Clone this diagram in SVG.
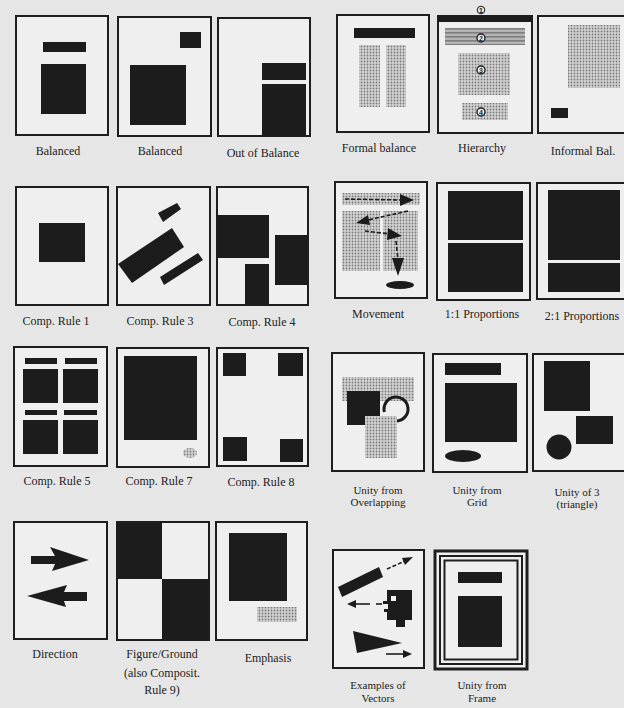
<svg xmlns="http://www.w3.org/2000/svg" width="624" height="708" viewBox="0 0 624 708">
<style>
.pg{fill:#efefef;stroke:#1e1e1e;stroke-width:2}
.bk{fill:#1c1c1c}
.dt{fill:url(#dots)}
.lbl{font-family:"Liberation Serif","Times New Roman",serif;font-size:12px;fill:#222;text-anchor:middle}
.l2{font-family:"Liberation Serif","Times New Roman",serif;font-size:11px;fill:#222;text-anchor:middle}
.num{font-family:"Liberation Sans",Arial,sans-serif;font-size:7px;font-weight:bold;fill:#1c1c1c;text-anchor:middle}
.nc{fill:#f2f2f2;stroke:#1c1c1c;stroke-width:1.4}
.dash{fill:none;stroke:#1c1c1c;stroke-width:1.6;stroke-dasharray:4 2}
.ln{fill:none;stroke:#1c1c1c;stroke-width:1.6}
</style>
<defs>
<pattern id="dots" width="3" height="3" patternUnits="userSpaceOnUse"><rect width="3" height="3" fill="#d4d4d4"/><circle cx="1.5" cy="1.5" r="0.9" fill="#7a7a7a"/></pattern>
<pattern id="stripes" width="4" height="4" patternUnits="userSpaceOnUse"><rect width="4" height="4" fill="#b4b4b4"/><rect width="4" height="1.6" fill="#7e7e7e"/></pattern>
</defs>
<rect width="624" height="708" fill="#e6e6e6"/>

<g id="balanced1">
<rect class="pg" x="16" y="16" width="92" height="119"/>
<rect class="bk" x="43" y="42" width="43" height="10"/>
<rect class="bk" x="41" y="64" width="45" height="50"/>
<text class="lbl" x="58" y="155">Balanced</text>
</g>
<g id="balanced2">
<rect class="pg" x="118" y="17" width="93" height="119"/>
<rect class="bk" x="180" y="32" width="21" height="16"/>
<rect class="bk" x="130" y="65" width="56" height="60"/>
<text class="lbl" x="160" y="155">Balanced</text>
</g>
<g id="outofbalance">
<rect class="pg" x="218" y="18" width="92" height="118"/>
<rect class="bk" x="262" y="63" width="44" height="17"/>
<rect class="bk" x="262" y="84" width="44" height="52"/>
<text class="lbl" x="263" y="157">Out of Balance</text>
</g>

<g id="formalbalance">
<rect class="pg" x="337" y="15" width="92" height="117"/>
<rect class="bk" x="354" y="28" width="61" height="10"/>
<rect class="dt" x="359" y="45" width="21" height="62"/>
<rect class="dt" x="386" y="45" width="20" height="62"/>
<text class="lbl" x="379" y="152">Formal balance</text>
</g>
<g id="hierarchy">
<circle cx="481" cy="10" r="3.8" fill="none" stroke="#1c1c1c" stroke-width="1"/>
<text class="num" x="481" y="12.5" font-weight="normal">1</text>
<rect class="pg" x="438" y="16" width="94" height="117"/>
<rect class="bk" x="438" y="16" width="94" height="6"/>
<rect x="445" y="28" width="80" height="17" fill="url(#stripes)"/>
<rect class="dt" x="458" y="53" width="52" height="42"/>
<rect class="dt" x="462" y="103" width="46" height="17"/>
<circle class="nc" cx="481" cy="38" r="4"/>
<text class="num" x="481" y="40.5">2</text>
<circle class="nc" cx="481" cy="70" r="4"/>
<text class="num" x="481" y="72.5">3</text>
<circle class="nc" cx="481" cy="112" r="4"/>
<text class="num" x="481" y="114.5">4</text>
<text class="lbl" x="482" y="152">Hierarchy</text>
</g>
<g id="informalbal">
<rect class="pg" x="538" y="16" width="92" height="117"/>
<rect class="dt" x="568" y="25" width="52" height="63"/>
<rect class="bk" x="551" y="108" width="17" height="10"/>
<text class="lbl" x="583" y="155">Informal Bal.</text>
</g>

<g id="comprule1">
<rect class="pg" x="16" y="187" width="92" height="118"/>
<rect class="bk" x="39" y="223" width="46" height="39"/>
<text class="lbl" x="56" y="325">Comp. Rule 1</text>
</g>
<g id="comprule3">
<rect class="pg" x="117" y="187" width="93" height="118"/>
<polygon class="bk" points="158,213 177,203 181,209 163,222"/>
<polygon class="bk" points="118,264 172,228 184,247 132,283"/>
<polygon class="bk" points="160,277 198,253 203,260 164,285"/>
<text class="lbl" x="160" y="325">Comp. Rule 3</text>
</g>
<g id="comprule4">
<rect class="pg" x="217" y="187" width="91" height="118"/>
<rect class="bk" x="217" y="215" width="52" height="43"/>
<rect class="bk" x="275" y="235" width="33" height="50"/>
<rect class="bk" x="245" y="264" width="24" height="41"/>
<text class="lbl" x="262" y="326">Comp. Rule 4</text>
</g>

<g id="movement">
<rect class="pg" x="335" y="182" width="92" height="116"/>
<rect class="dt" x="342" y="193" width="78" height="12"/>
<rect class="dt" x="342" y="211" width="38" height="60"/>
<rect class="dt" x="383" y="211" width="35" height="60"/>
<line class="dash" x1="345" y1="199" x2="401" y2="200"/>
<polygon class="bk" points="400,194 414,200 400,206"/>
<line class="dash" x1="408" y1="211" x2="368" y2="220"/>
<polygon class="bk" points="356,223 368,215 370,225"/>
<line class="dash" x1="365" y1="231" x2="390" y2="234"/>
<polygon class="bk" points="388,228 402,236 387,240"/>
<line class="dash" x1="396" y1="241" x2="398" y2="260"/>
<polygon class="bk" points="392,258 404,258 398,276"/>
<ellipse class="bk" cx="400" cy="285" rx="14" ry="4"/>
<text class="lbl" x="378" y="318">Movement</text>
</g>
<g id="prop11">
<rect class="pg" x="437" y="183" width="93" height="117"/>
<rect class="bk" x="448" y="191" width="75" height="49"/>
<rect class="bk" x="448" y="243" width="75" height="49"/>
<text class="lbl" x="482" y="318">1:1 Proportions</text>
</g>
<g id="prop21">
<rect class="pg" x="537" y="183" width="93" height="116"/>
<rect class="bk" x="548" y="190" width="72" height="70"/>
<rect class="bk" x="548" y="263" width="72" height="29"/>
<text class="lbl" x="582" y="320">2:1 Proportions</text>
</g>

<g id="comprule5">
<rect class="pg" x="14" y="347" width="93" height="119"/>
<rect class="bk" x="25" y="358" width="32" height="6"/>
<rect class="bk" x="65" y="358" width="32" height="6"/>
<rect class="bk" x="23" y="369" width="35" height="34"/>
<rect class="bk" x="63" y="369" width="35" height="34"/>
<rect class="bk" x="25" y="410" width="32" height="5"/>
<rect class="bk" x="64" y="410" width="33" height="5"/>
<rect class="bk" x="23" y="420" width="35" height="34"/>
<rect class="bk" x="63" y="420" width="35" height="34"/>
<text class="lbl" x="57" y="485">Comp. Rule 5</text>
</g>
<g id="comprule7">
<rect class="pg" x="117" y="348" width="92" height="119"/>
<rect class="bk" x="124" y="356" width="73" height="84"/>
<ellipse class="dt" cx="190" cy="453" rx="7" ry="5"/>
<text class="lbl" x="159" y="485">Comp. Rule 7</text>
</g>
<g id="comprule8">
<rect class="pg" x="217" y="348" width="91" height="118"/>
<rect class="bk" x="223" y="353" width="23" height="23"/>
<rect class="bk" x="278" y="353" width="25" height="23"/>
<rect class="bk" x="223" y="437" width="24" height="24"/>
<rect class="bk" x="280" y="439" width="23" height="23"/>
<text class="lbl" x="261" y="486">Comp. Rule 8</text>
</g>

<g id="unityoverlap">
<rect class="pg" x="332" y="353" width="92" height="118"/>
<rect class="dt" x="342" y="377" width="72" height="24"/>
<rect class="bk" x="347" y="391" width="33" height="34"/>
<path d="M384.4,412 A12,12 0 1 1 397,421" fill="none" stroke="#1c1c1c" stroke-width="3"/>
<rect class="dt" x="365" y="416" width="32" height="42"/>
<text class="l2" x="378" y="494">Unity from</text>
<text class="l2" x="378" y="506">Overlapping</text>
</g>
<g id="unitygrid">
<rect class="pg" x="433" y="354" width="94" height="118"/>
<rect class="bk" x="445" y="363" width="56" height="12"/>
<rect class="bk" x="445" y="383" width="72" height="59"/>
<ellipse class="bk" cx="463" cy="456" rx="18" ry="6"/>
<text class="l2" x="477" y="494">Unity from</text>
<text class="l2" x="477" y="506">Grid</text>
</g>
<g id="unityof3">
<rect class="pg" x="533" y="354" width="96" height="117"/>
<rect class="bk" x="544" y="361" width="46" height="50"/>
<rect class="bk" x="576" y="416" width="37" height="28"/>
<circle class="bk" cx="559" cy="447" r="12.5"/>
<text class="l2" x="577" y="496">Unity of 3</text>
<text class="l2" x="577" y="508">(triangle)</text>
</g>

<g id="direction">
<rect class="pg" x="14" y="522" width="93" height="117"/>
<polygon class="bk" points="31,556 55,556 50,547 89,560 52,571 55,564 31,564"/>
<polygon class="bk" points="27,596 67,585 64,592 87,592 87,601 64,601 66,607"/>
<text class="lbl" x="55" y="658">Direction</text>
</g>
<g id="figureground">
<rect class="pg" x="117" y="522" width="92" height="118"/>
<rect class="bk" x="117" y="522" width="45" height="57"/>
<rect class="bk" x="162" y="579" width="47" height="61"/>
<text class="lbl" x="162" y="658">Figure/Ground</text>
<text class="lbl" x="162" y="677">(also Composit.</text>
<text class="lbl" x="162" y="694">Rule 9)</text>
</g>
<g id="emphasis">
<rect class="pg" x="216" y="522" width="91" height="118"/>
<rect class="bk" x="229" y="533" width="58" height="68"/>
<rect class="dt" x="257" y="607" width="40" height="15"/>
<text class="lbl" x="268" y="662">Emphasis</text>
</g>

<g id="vectors">
<rect class="pg" x="333" y="550" width="91" height="118"/>
<polygon class="bk" points="338,587 379,567 383,577 342,597"/>
<line class="dash" x1="387" y1="569" x2="405" y2="561"/>
<polygon class="bk" points="413,557 402,558 405,565"/>
<line class="ln" x1="355" y1="604" x2="370" y2="604"/>
<polygon class="bk" points="347,604 356,600 356,608"/>
<line class="ln" x1="376" y1="604" x2="382" y2="604"/>
<path class="bk" d="M387,590H412V620H405V627H396V620H387V612H384V609H388V604H383V601H387Z"/>
<rect x="391" y="596" width="5" height="5" fill="#efefef"/>
<polygon class="bk" points="353,631 402,643 357,653"/>
<line class="ln" x1="386" y1="654" x2="404" y2="654"/>
<polygon class="bk" points="412,654 403,650 403,658"/>
<text class="l2" x="378" y="689">Examples of</text>
<text class="l2" x="378" y="702">Vectors</text>
</g>
<g id="unityframe">
<rect x="435" y="551" width="92" height="118" fill="#efefef" stroke="#1e1e1e" stroke-width="3"/>
<rect x="440" y="556" width="82" height="108" fill="none" stroke="#1e1e1e" stroke-width="2"/>
<rect x="444.5" y="560.5" width="73" height="99" fill="none" stroke="#1e1e1e" stroke-width="2"/>
<rect class="bk" x="458" y="572" width="44" height="11"/>
<rect class="bk" x="458" y="596" width="44" height="51"/>
<text class="l2" x="482" y="689">Unity from</text>
<text class="l2" x="482" y="702">Frame</text>
</g>
</svg>
